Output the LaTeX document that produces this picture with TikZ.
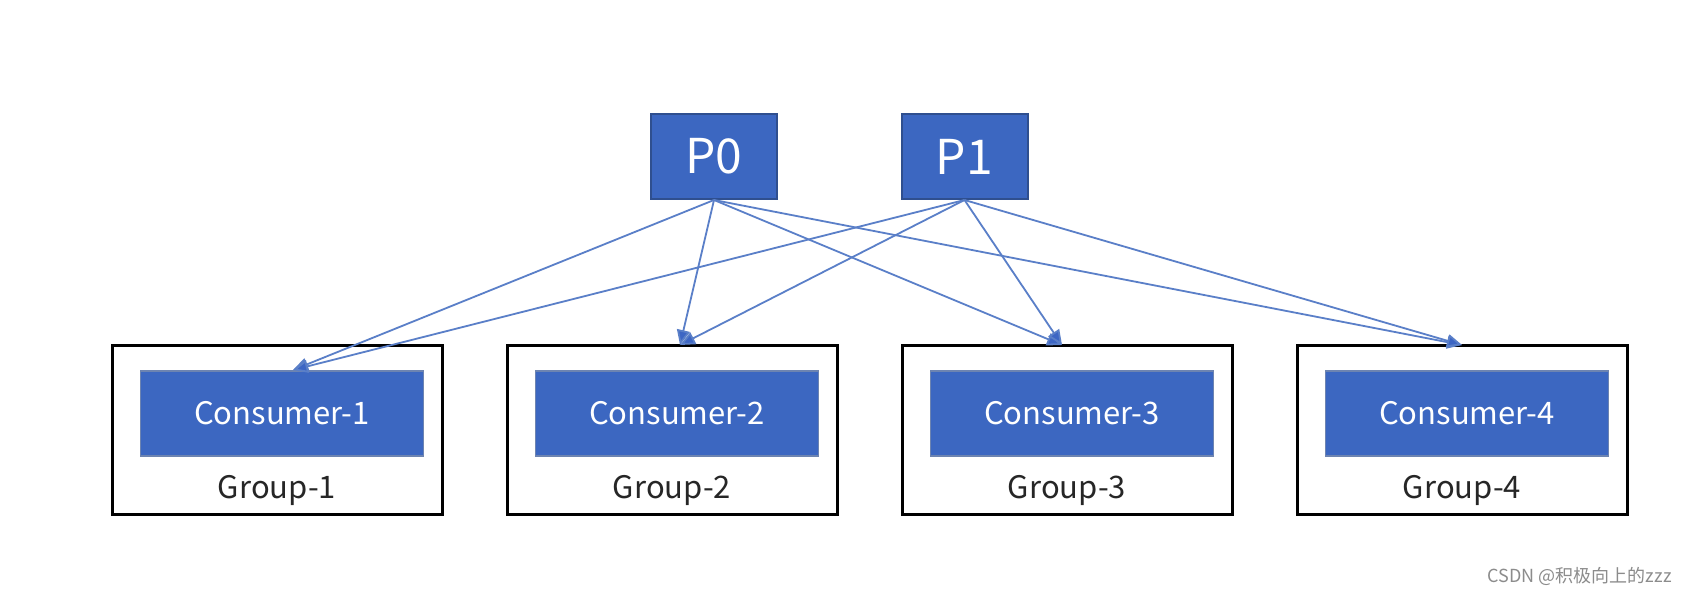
\documentclass[tikz,border=0pt]{standalone}
\usepackage{fontspec}
\setmainfont{Noto Sans CJK SC}
\usetikzlibrary{arrows.meta}
\definecolor{boxblue}{HTML}{3C67C1}
\definecolor{boxedge}{HTML}{2F4F8F}
\definecolor{linkblue}{HTML}{5A7FC8}
\definecolor{tipblue}{HTML}{3D66C4}
\tikzset{
  pbox/.style={draw=boxedge, line width=1pt, fill=boxblue, text=white, minimum width=63pt, minimum height=42.5pt, inner sep=0pt, font=\fontsize{24}{26}\selectfont},
  gbox/.style={draw=black, line width=1.5pt, fill=white, minimum width=165pt, minimum height=84.5pt, inner sep=0pt},
  cbox/.style={draw=boxedge!70, line width=0.6pt, fill=boxblue, text=white, minimum width=141.5pt, minimum height=42.5pt, inner sep=0pt, font=\fontsize{15.5}{17}\selectfont},
  glabel/.style={text=black!85, inner sep=0pt, font=\fontsize{15.5}{17}\selectfont},
  link/.style={draw=linkblue, line width=0.9pt, -{Triangle[length=7.5pt,width=6.5pt,fill=tipblue]}},
  wmark/.style={text=black!45, inner sep=0pt, font=\fontsize{9}{10}\selectfont}
}
\begin{document}
\begin{tikzpicture}[x=0.5pt,y=-0.5pt]
\useasboundingbox (0,0) rectangle (1688,595);
\fill[white] (0,0) rectangle (1688,595);
\node[pbox] (p0) at (714,156.5) {P0};
\node[pbox] (p1) at (964.5,156.5) {P1};
\foreach \i/\x in {1/277,2/672,3/1067,4/1462}{
  \node[gbox] (g\i) at (\x,429.5) {};
  \node[cbox] (c\i) at (\x+5,413.5) {Consumer-\i};
  \node[glabel] (l\i) at (\x,490) {Group-\i};
}
\coordinate (t1) at (293,370);
\coordinate (t2) at (680,345);
\coordinate (t3) at (1062,345);
\coordinate (t4) at (1462,345);
\foreach \t in {1,2,3,4}{
  \draw[link] (p0.south) -- (t\t);
  \draw[link] (p1.south) -- (t\t);
}
\node[wmark, anchor=east] (wm) at (1672,576) {CSDN @积极向上的zzz};
\end{tikzpicture}
\end{document}
